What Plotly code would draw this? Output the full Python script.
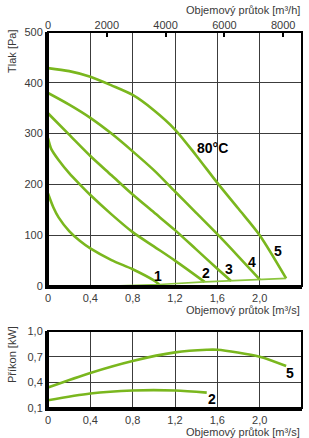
import plotly.graph_objects as go

GREEN = "#7AB71E"
GREEN_THIN = "#8CC63F"
FONT = "Liberation Sans, Arial, sans-serif"

# ---- pressure curves (flow m3/s, pressure Pa) ----
flow1 = [0, 0.05, 0.1, 0.2, 0.3, 0.4, 0.6, 0.8, 1.0, 1.05]
p1 = [182, 155, 135, 108, 89, 74, 51, 33, 11, 3]
flow2 = [0, 0.03, 0.1, 0.2, 0.3, 0.4, 0.6, 0.8, 1.0, 1.2, 1.48]
p2 = [291, 270, 248, 222, 200, 179, 141, 106, 78, 50, 8]
flow3 = [0, 0.2, 0.4, 0.6, 0.8, 1.0, 1.2, 1.4, 1.6, 1.73]
p3 = [340, 298, 256, 218, 180, 145, 110, 72, 34, 10]
flow4 = [0, 0.2, 0.4, 0.6, 0.8, 1.0, 1.2, 1.4, 1.6, 1.8, 2.0]
p4 = [380, 357, 331, 300, 265, 228, 186, 144, 102, 58, 13]
flow5 = [0, 0.2, 0.4, 0.6, 0.8, 1.0, 1.2, 1.4, 1.6, 1.8, 2.0, 2.25]
p5 = [429, 423, 412, 395, 376, 346, 308, 257, 203, 152, 100, 15]
# system line through curve ends
flow_sys = [0.6, 1.05, 1.48, 1.73, 2.0, 2.25]
p_sys = [0, 3, 8, 10, 13, 15]

# ---- power curves (flow m3/s, power kW) ----
flow_pw5 = [0, 0.4, 0.8, 1.2, 1.5, 1.6, 2.0, 2.25]
pw5 = [0.34, 0.51, 0.65, 0.75, 0.78, 0.78, 0.70, 0.59]
flow_pw2 = [0, 0.4, 0.8, 1.2, 1.5]
pw2 = [0.19, 0.27, 0.305, 0.305, 0.28]

curve_labels = ["1", "2", "3", "4", "5"]
label_x = [1.04, 1.49, 1.71, 1.93, 2.17]
label_y = [20, 25, 33, 48, 68]

x_ticks = [0, 0.4, 0.8, 1.2, 1.6, 2.0, 2.4]
x_ticktext = ["0", "0,4", "0,8", "1,2", "1,6", "2,0", "2,4"]
y_ticks = [0, 100, 200, 300, 400, 500]
top_ticks = [0, 2000, 4000, 6000, 8000]
pw_ticks = [0.1, 0.4, 0.7, 1.0]
pw_ticktext = ["0,1", "0,4", "0,7", "1,0"]

fig = go.Figure()
for fx, fy in [(flow1, p1), (flow2, p2), (flow3, p3), (flow4, p4), (flow5, p5)]:
    fig.add_trace(go.Scatter(x=fx, y=fy, mode="lines", line=dict(color=GREEN, width=2.6, shape="spline", smoothing=0.8),
                             xaxis="x", yaxis="y", showlegend=False, hoverinfo="skip"))
fig.add_trace(go.Scatter(x=flow_sys, y=p_sys, mode="lines", line=dict(color=GREEN_THIN, width=1.6),
                         xaxis="x", yaxis="y", showlegend=False, hoverinfo="skip"))
# dummy trace for top axis
fig.add_trace(go.Scatter(x=[0, 8640], y=[None, None], mode="lines", xaxis="x3", yaxis="y", showlegend=False, hoverinfo="skip"))

for fx, fy in [(flow_pw5, pw5), (flow_pw2, pw2)]:
    fig.add_trace(go.Scatter(x=fx, y=fy, mode="lines", line=dict(color=GREEN, width=2.6, shape="spline", smoothing=0.8),
                             xaxis="x2", yaxis="y2", showlegend=False, hoverinfo="skip"))

tickfont = dict(family=FONT, size=11, color="#3a3a3a")
grid = dict(showgrid=True, gridcolor="#3c3c3c", gridwidth=1.2, zeroline=False, automargin=False)

fig.update_layout(
    width=309, height=438,
    margin=dict(l=48, r=7, t=32, b=30, autoexpand=False),
    paper_bgcolor="white", plot_bgcolor="white",
    xaxis=dict(domain=[0, 1], anchor="y", range=[0, 2.4], tickvals=x_ticks, ticktext=x_ticktext,
               tickfont=tickfont, showline=True, linecolor="black", linewidth=3, ticks="", **grid),
    yaxis=dict(domain=[0.3245, 1], anchor="x", range=[0, 500], tickvals=y_ticks,
               tickfont=tickfont, showline=True, linecolor="black", linewidth=3, ticks="", **grid),
    xaxis3=dict(overlaying="x", side="top", anchor="y", range=[0, 8640], tickvals=top_ticks,
                tickfont=tickfont, ticks="inside", ticklen=5, tickwidth=1.5, tickcolor="black",
                showgrid=False, zeroline=False, showline=False, automargin=False),
    xaxis2=dict(domain=[0, 1], anchor="y2", range=[0, 2.4], tickvals=x_ticks, ticktext=x_ticktext,
                tickfont=tickfont, showline=True, linecolor="black", linewidth=2.5, ticks="", **grid),
    yaxis2=dict(domain=[0, 0.2048], anchor="x2", range=[0.1, 1.0], tickvals=pw_ticks, ticktext=pw_ticktext,
                tickfont=tickfont, showline=True, linecolor="black", linewidth=3, ticks="", **grid),
)

fig.add_shape(type="rect", xref="x domain", yref="y domain", x0=0, x1=1, y0=0, y1=1,
              line=dict(color="black", width=2), layer="above")
fig.add_shape(type="rect", xref="x2 domain", yref="y2 domain", x0=0, x1=1, y0=0, y1=1,
              line=dict(color="black", width=2), layer="above")

ann_font = dict(family=FONT, size=11, color="#3a3a3a")
fig.add_annotation(text="Objemový průtok [m³/h]", xref="paper", yref="paper", x=1, y=1.0585,
                   xanchor="right", yanchor="middle", showarrow=False, font=ann_font)
fig.add_annotation(text="Objemový průtok [m³/s]", xref="paper", yref="paper", x=1, y=0.26,
                   xanchor="right", yanchor="middle", showarrow=False, font=ann_font)
fig.add_annotation(text="Objemový průtok [m³/s]", xref="paper", yref="paper", x=1, y=-0.063,
                   xanchor="right", yanchor="middle", showarrow=False, font=ann_font)
fig.add_annotation(text="Tlak [Pa]", xref="paper", yref="paper", x=-0.1417, y=0.947, textangle=-90,
                   xanchor="center", yanchor="middle", showarrow=False, font=ann_font)
fig.add_annotation(text="Příkon [kW]", xref="paper", yref="paper", x=-0.1417, y=0.141, textangle=-90,
                   xanchor="center", yanchor="middle", showarrow=False, font=ann_font)

lab_font = dict(family=FONT, size=14, color="black")
for t, lx, ly in zip(curve_labels, label_x, label_y):
    fig.add_annotation(text="<b>%s</b>" % t, x=lx, y=ly, xref="x", yref="y", showarrow=False, font=lab_font)
fig.add_annotation(text="<b>80°C</b>", x=1.55, y=272, xref="x", yref="y", showarrow=False, font=lab_font)
fig.add_annotation(text="<b>5</b>", x=2.29, y=0.51, xref="x2", yref="y2", showarrow=False, font=lab_font)
fig.add_annotation(text="<b>2</b>", x=1.55, y=0.2, xref="x2", yref="y2", showarrow=False, font=lab_font)

fig.write_html("out.html", config={"displayModeBar": False},
               post_script="document.body.style.margin='0';document.body.style.padding='0';document.body.style.overflow='hidden';")
